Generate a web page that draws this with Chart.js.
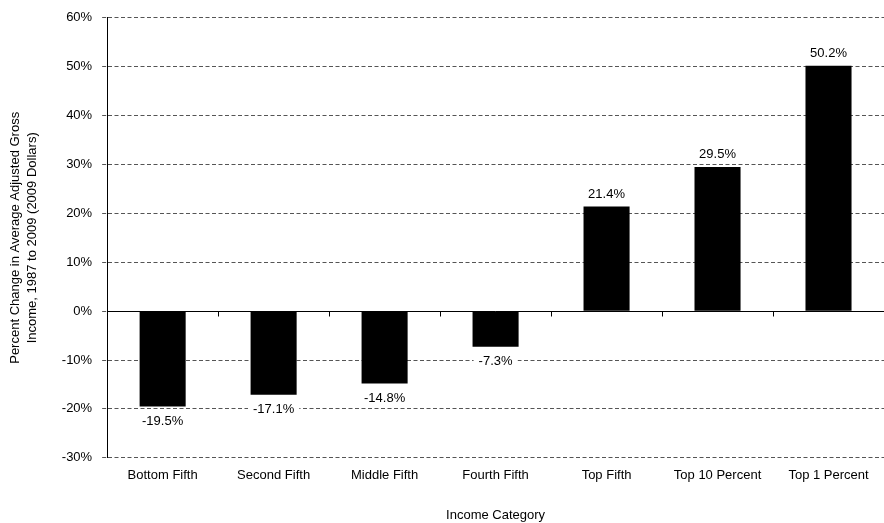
<!DOCTYPE html>
<html>
<head>
<meta charset="utf-8">
<script src="https://cdn.jsdelivr.net/npm/chart.js@4"></script>
<style>
  html, body { margin: 0; padding: 0; background: #fff; }
  #wrap { width: 884px; height: 523px; }
</style>
</head>
<body>
<div id="wrap"><canvas id="c"></canvas></div>
<script>
const categories = ["Bottom Fifth", "Second Fifth", "Middle Fifth", "Fourth Fifth", "Top Fifth", "Top 10 Percent", "Top 1 Percent"];
const values = [-19.5, -17.1, -14.8, -7.3, 21.4, 29.5, 50.2];
const yMin = -30, yMax = 60, yStep = 10;
const yTitle = ["Percent Change in Average Adjusted Gross", "Income, 1987 to 2009 (2009 Dollars)"];
const xTitle = "Income Category";

const FONT = "'Liberation Sans', Arial, sans-serif";
const FS = 13;

const decor = {
  id: 'decor',
  afterDatasetsDraw(chart) {
    const ctx = chart.ctx, x = chart.scales.x, y = chart.scales.y, a = chart.chartArea;
    const y0 = Math.round(y.getPixelForValue(0)) + 0.5;
    ctx.save();
    ctx.strokeStyle = '#000';
    ctx.lineWidth = 1;
    ctx.setLineDash([]);
    ctx.beginPath();
    ctx.moveTo(a.left, y0); ctx.lineTo(a.right, y0);
    for (let i = 1; i < categories.length; i++) {
      const bx = Math.round((x.getPixelForValue(i - 1) + x.getPixelForValue(i)) / 2) + 0.5;
      ctx.moveTo(bx, y0); ctx.lineTo(bx, y0 + 5);
    }
    ctx.stroke();
    ctx.font = FS + 'px ' + FONT;
    ctx.textAlign = 'center';
    ctx.textBaseline = 'middle';
    const meta = chart.getDatasetMeta(0);
    meta.data.forEach((bar, i) => {
      const v = values[i];
      const txt = v.toFixed(1) + '%';
      const tw = ctx.measureText(txt).width;
      const cy = v >= 0 ? bar.y - 13 : bar.y + 14;
      ctx.fillStyle = '#fff';
      ctx.fillRect(bar.x - tw / 2 - 5, cy - 8, tw + 10, 16);
      ctx.fillStyle = '#000';
      ctx.fillText(txt, bar.x, cy + 1);
    });
    ctx.restore();
  }
};

new Chart(document.getElementById('c'), {
  type: 'bar',
  data: {
    labels: categories,
    datasets: [{
      data: values,
      backgroundColor: '#000',
      borderWidth: 0,
      barPercentage: 0.415,
      categoryPercentage: 1.0
    }]
  },
  options: {
    responsive: true,
    maintainAspectRatio: false,
    animation: false,
    layout: { padding: { top: 5, right: 0, left: 7, bottom: 0 } },
    plugins: { legend: { display: false }, tooltip: { enabled: false } },
    scales: {
      x: {
        grid: { display: false, drawTicks: false, tickLength: 0 },
        border: { display: false },
        ticks: { color: '#000', font: { family: FONT, size: FS }, padding: 10, maxRotation: 0 },
        title: { display: true, text: xTitle, color: '#000', font: { family: FONT, size: FS }, padding: { top: 14, bottom: 0 } }
      },
      y: {
        min: yMin, max: yMax,
        ticks: { stepSize: yStep, color: '#000', font: { family: FONT, size: FS }, padding: 10, callback: v => v + '%' },
        grid: { color: '#555', lineWidth: 1, tickLength: 5, tickColor: '#555', tickBorderDash: [4, 2.5] },
        border: { display: true, color: '#000', width: 1, dash: [4, 2.5] },
        title: { display: true, text: yTitle, color: '#000', font: { family: FONT, size: FS, lineHeight: 1.3 }, padding: { top: 0, bottom: 11 } }
      }
    }
  },
  plugins: [decor]
});
</script>
</body>
</html>
